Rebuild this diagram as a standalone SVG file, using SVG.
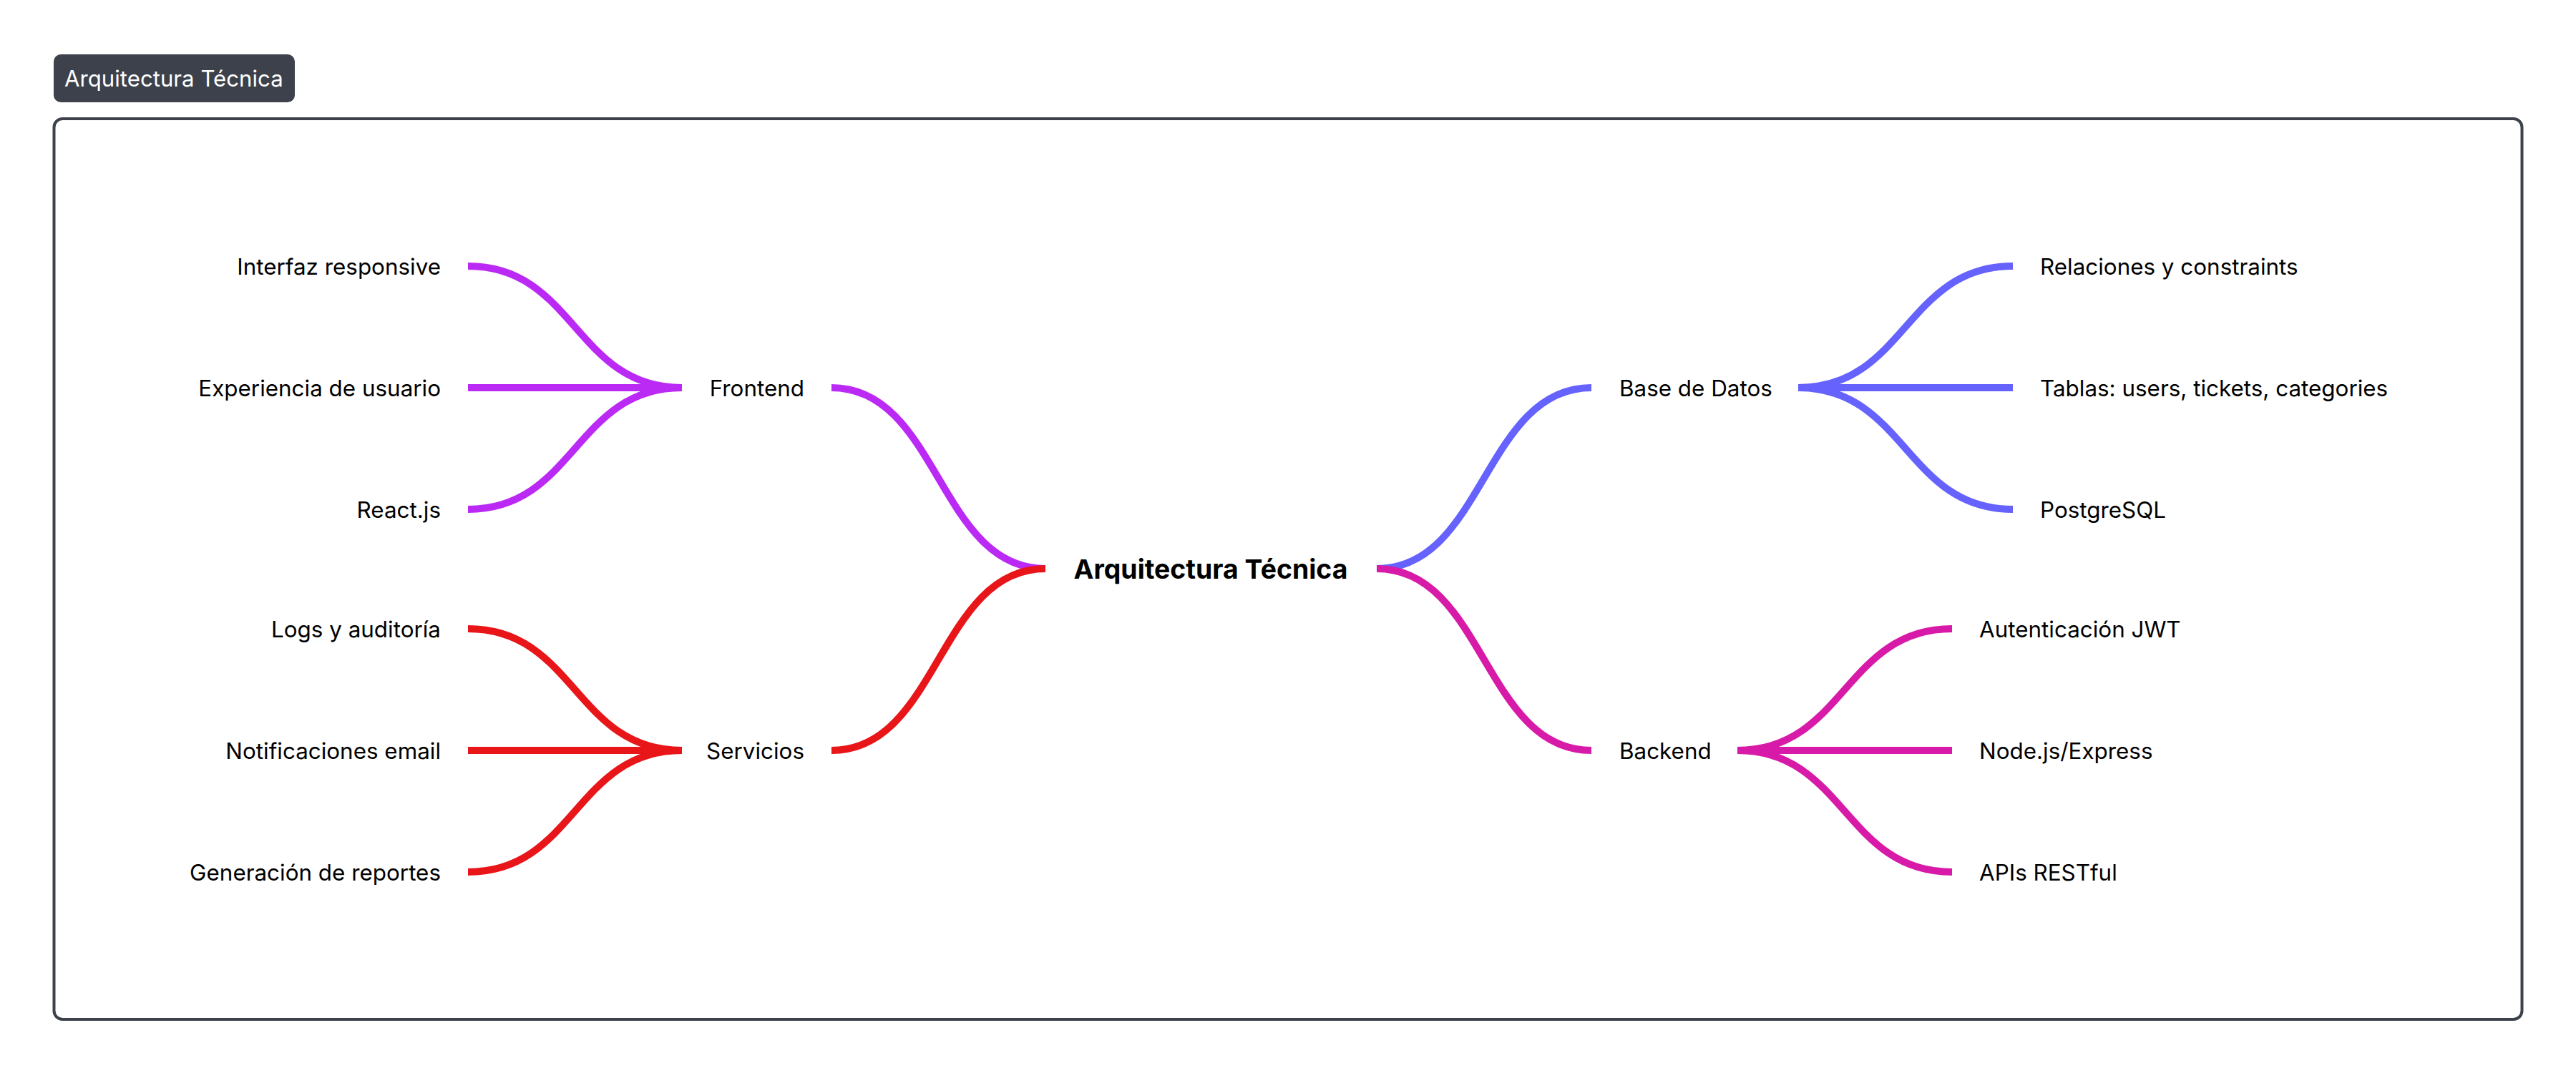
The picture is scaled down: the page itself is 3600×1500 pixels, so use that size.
<svg xmlns="http://www.w3.org/2000/svg" width="3600" height="1500" viewBox="0 0 3600 1500">
  <style>
    .t { font-family: Inter, "Noto Sans", "Liberation Sans", sans-serif; font-size: 31.4px; fill: #000000; }
    .root { font-family: Inter, "Noto Sans", "Liberation Sans", sans-serif; font-size: 37.4px; font-weight: 700; fill: #000000; }
    .title { font-family: Inter, "Noto Sans", "Liberation Sans", sans-serif; font-size: 31.2px; fill: #ffffff; }
    .e { fill: none; stroke-width: 10; stroke-linecap: butt; }
    .fe { stroke: #bb2af5; }
    .sv { stroke: #e81519; }
    .db { stroke: #6562fd; }
    .be { stroke: #d81aa8; }
  </style>
  <rect width="3600" height="1500" fill="#ffffff"/>

  <g id="title">
    <rect x="75" y="76" width="337" height="67" rx="10" fill="#3c414b"/>
    <text class="title" x="90" y="121">Arquitectura Técnica</text>
  </g>

  <g id="frame">
    <rect x="75.5" y="166" width="3449" height="1259" rx="12" fill="none" stroke="#3c414b" stroke-width="4"/>
  </g>

  <g id="connectors">
    <!-- root to level 1 -->
    <path class="e fe" d="M1461,795 C1311.5,795 1311.5,542 1162,542"/>
    <path class="e sv" d="M1461,795 C1311.5,795 1311.5,1049 1162,1049"/>
    <path class="e db" d="M1924,795 C2074,795 2074,542 2224,542"/>
    <path class="e be" d="M1924,795 C2074,795 2074,1049 2224,1049"/>
    <!-- Frontend children -->
    <path class="e fe" d="M953,542 C803.5,542 803.5,372 654,372"/>
    <path class="e fe" d="M953,542 L654,542"/>
    <path class="e fe" d="M953,542 C803.5,542 803.5,712 654,712"/>
    <!-- Servicios children -->
    <path class="e sv" d="M953,1049 C803.5,1049 803.5,879 654,879"/>
    <path class="e sv" d="M953,1049 L654,1049"/>
    <path class="e sv" d="M953,1049 C803.5,1049 803.5,1219 654,1219"/>
    <!-- Base de Datos children -->
    <path class="e db" d="M2513,542 C2663,542 2663,372 2813,372"/>
    <path class="e db" d="M2513,542 L2813,542"/>
    <path class="e db" d="M2513,542 C2663,542 2663,712 2813,712"/>
    <!-- Backend children -->
    <path class="e be" d="M2428,1049 C2578,1049 2578,879 2728,879"/>
    <path class="e be" d="M2428,1049 L2728,1049"/>
    <path class="e be" d="M2428,1049 C2578,1049 2578,1219 2728,1219"/>
  </g>

  <g id="node-root">
    <text class="root" x="1692" y="808.5" text-anchor="middle">Arquitectura Técnica</text>
  </g>

  <g id="node-frontend">
    <text class="t" x="1124" y="553.5" text-anchor="end">Frontend</text>
  </g>
  <g id="node-interfaz">
    <text class="t" x="616" y="383.5" text-anchor="end">Interfaz responsive</text>
  </g>
  <g id="node-experiencia">
    <text class="t" x="616" y="553.5" text-anchor="end">Experiencia de usuario</text>
  </g>
  <g id="node-react">
    <text class="t" x="616" y="723.5" text-anchor="end">React.js</text>
  </g>

  <g id="node-servicios">
    <text class="t" x="1124" y="1060.5" text-anchor="end">Servicios</text>
  </g>
  <g id="node-logs">
    <text class="t" x="616" y="890.5" text-anchor="end">Logs y auditoría</text>
  </g>
  <g id="node-notificaciones">
    <text class="t" x="616" y="1060.5" text-anchor="end">Notificaciones email</text>
  </g>
  <g id="node-reportes">
    <text class="t" x="616" y="1230.5" text-anchor="end">Generación de reportes</text>
  </g>

  <g id="node-basedatos">
    <text class="t" x="2263" y="553.5">Base de Datos</text>
  </g>
  <g id="node-relaciones">
    <text class="t" x="2851" y="383.5">Relaciones y constraints</text>
  </g>
  <g id="node-tablas">
    <text class="t" x="2851" y="553.5">Tablas: users, tickets, categories</text>
  </g>
  <g id="node-postgres">
    <text class="t" x="2851" y="723.5">PostgreSQL</text>
  </g>

  <g id="node-backend">
    <text class="t" x="2263" y="1060.5">Backend</text>
  </g>
  <g id="node-jwt">
    <text class="t" x="2766" y="890.5">Autenticación JWT</text>
  </g>
  <g id="node-node">
    <text class="t" x="2766" y="1060.5">Node.js/Express</text>
  </g>
  <g id="node-apis">
    <text class="t" x="2766" y="1230.5">APIs RESTful</text>
  </g>
</svg>
